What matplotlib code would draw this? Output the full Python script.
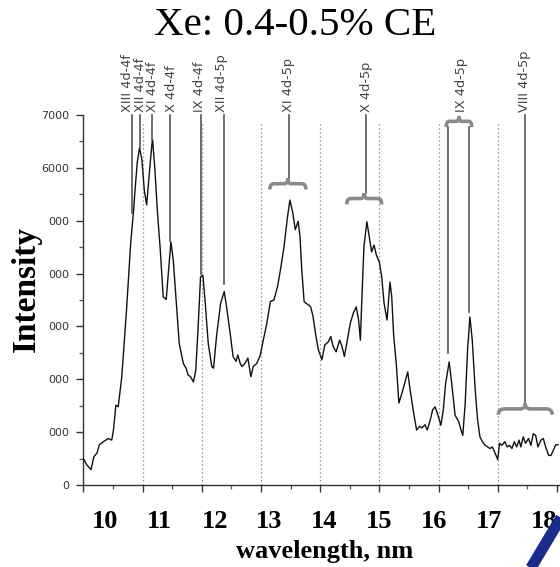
import numpy as np
import matplotlib
matplotlib.use("Agg")
import matplotlib.pyplot as plt
import matplotlib.transforms as mtransforms
from matplotlib.path import Path
from matplotlib.patches import PathPatch
from matplotlib.lines import Line2D

# ---------------- data ----------------
wavelength = [
    10.00, 10.06, 10.13, 10.18, 10.23, 10.27, 10.34, 10.42, 10.48, 10.51,
    10.55, 10.59, 10.65, 10.73, 10.80, 10.85, 10.87, 10.91, 10.95, 10.99,
    11.03, 11.07, 11.12, 11.16, 11.17, 11.21, 11.25, 11.30, 11.35, 11.40,
    11.44, 11.48, 11.52, 11.58, 11.62, 11.69, 11.74, 11.77, 11.81, 11.86,
    11.90, 11.94, 11.98, 12.02, 12.06, 12.11, 12.17, 12.20, 12.25, 12.32,
    12.38, 12.42, 12.48, 12.53, 12.58, 12.61, 12.65, 12.68, 12.73, 12.78,
    12.82, 12.83, 12.87, 12.93, 12.99, 13.04, 13.10, 13.16, 13.22, 13.28,
    13.33, 13.39, 13.45, 13.49, 13.54, 13.58, 13.63, 13.66, 13.69, 13.73,
    13.76, 13.80, 13.84, 13.88, 13.93, 13.97, 14.03, 14.08, 14.14, 14.18,
    14.22, 14.27, 14.33, 14.37, 14.41, 14.45, 14.51, 14.56, 14.61, 14.65,
    14.68, 14.70, 14.74, 14.79, 14.83, 14.87, 14.91, 14.95, 15.00, 15.04,
    15.08, 15.13, 15.16, 15.18, 15.21, 15.24, 15.29, 15.33, 15.38, 15.42,
    15.48, 15.52, 15.58, 15.63, 15.68, 15.72, 15.77, 15.81, 15.86, 15.90,
    15.94, 15.98, 16.04, 16.08, 16.12, 16.18, 16.22, 16.28, 16.34, 16.38,
    16.41, 16.45, 16.49, 16.53, 16.57, 16.62, 16.66, 16.70, 16.74, 16.79,
    16.83, 16.87, 16.91, 16.96, 17.00, 17.03, 17.07, 17.12, 17.16, 17.20,
    17.24, 17.28, 17.32, 17.36, 17.39, 17.43, 17.47, 17.52, 17.56, 17.60,
    17.64, 17.68, 17.73, 17.77, 17.81, 17.86, 17.90, 17.94, 17.98, 18.02,
]
intensity = [
    505, 380, 290, 540, 600, 760, 820, 880, 850, 1040,
    1510, 1480, 2050, 3310, 4570, 5200, 5520, 6090, 6380, 6150,
    5580, 5300, 5960, 6460, 6530, 5960, 5200, 4450, 3560, 3510,
    4060, 4600, 4250, 3310, 2680, 2300, 2200, 2080, 2050, 1950,
    2170, 3000, 3940, 3970, 3440, 2680, 2240, 2210, 2810, 3440,
    3660, 3370, 2870, 2430, 2340, 2460, 2300, 2240, 2300, 2400,
    2110, 2050, 2240, 2300, 2460, 2740, 3060, 3470, 3500, 3750,
    4070, 4510, 5080, 5390, 5140, 4830, 4990, 4700, 4070, 3470,
    3440, 3410, 3370, 3190, 2810, 2560, 2370, 2650, 2710, 2810,
    2620, 2520, 2740, 2620, 2430, 2680, 3060, 3250, 3370, 3120,
    2740, 3370, 4510, 4980, 4700, 4410, 4540, 4350, 4220, 3940,
    3440, 3120, 3560, 3840, 3560, 2870, 2240, 1550, 1730, 1890,
    2140, 1800, 1360, 1040, 1110, 1080, 1140, 1040, 1230, 1420,
    1480, 1360, 1130, 1420, 1920, 2330, 1950, 1320, 1200, 1040,
    940, 1540, 2550, 3180, 2740, 1790, 1230, 910, 820, 750,
    720, 690, 720, 590, 480, 790, 750, 820, 720, 750,
    690, 820, 720, 850, 720, 910, 790, 880, 750, 970,
    940, 720, 850, 880, 720, 560, 560, 660, 760, 760,
]

x_ticks = [10, 11, 12, 13, 14, 15, 16, 17, 18]
x_tick_labels = ["10", "11", "12", "13", "14", "15", "16", "17", "18"]
y_ticks = [0, 1000, 2000, 3000, 4000, 5000, 6000, 7000]
y_tick_labels = ["0", "000", "000", "000", "000", "000", "6000", "7000"]
grid_x = [11, 12, 13, 14, 15, 16, 17]

# single-line annotations
line_labels = ["XIII 4d-4f", "XII 4d-4f", "XI 4d-4f", "X 4d-4f", "IX 4d-4f", "XII 4d-5p"]
line_x = [10.83, 10.95, 11.16, 11.47, 11.99, 12.38]
line_text_x = [10.74, 10.96, 11.17, 11.49, 11.96, 12.34]
line_end = [5150, 6380, 6530, 4620, 3990, 3800]

# brace annotations
brace_labels = ["XI 4d-5p", "X 4d-5p", "IX 4d-5p", "VIII 4d-5p"]
brace_label_x = [13.47, 14.78, 16.39, 17.46]
brace_lo = [13.15, 14.45, 16.13, 17.01]
brace_hi = [13.76, 15.04, 16.56, 17.92]
brace_level = [5700, 5420, 6880, 1440]
# IX 4d-5p legs drop from brace ends to the peaks
ix_leg_x = [16.16, 16.52]
ix_leg_end = [2490, 3280]

TOP = 7000

# ---------------- figure ----------------
fig = plt.figure(figsize=(5.6, 5.67), dpi=100)
fig.patch.set_facecolor("white")
W, H = 560, 567
ax = fig.add_axes([83.3 / W, (H - 485) / H, (559.9 - 83.3) / W, (485 - 115) / H])

ax.set_xlim(10, 18.05)
ax.set_ylim(0, TOP)
for s in ["top", "right"]:
    ax.spines[s].set_visible(False)
for s in ["left", "bottom"]:
    ax.spines[s].set_color("#333333")
    ax.spines[s].set_linewidth(1.0)

ax.vlines(grid_x, 0, 6880, colors="#6a78b0", linestyles=(0, (1, 2.2)), linewidth=0.9)

ax.plot(wavelength, intensity, color="#111111", linewidth=1.0, zorder=3)

# ticks
ax.set_xticks(x_ticks)
ax.set_xticklabels([])
ax.set_xticks(np.arange(10.5, 18, 1.0), minor=True)
ax.set_yticks(y_ticks)
ax.set_yticklabels(y_tick_labels, fontsize=8, color="#333333", family="DejaVu Sans")
ax.set_yticks(np.arange(500, 7000, 1000), minor=True)
ax.tick_params(axis="both", which="major", direction="out", length=5, width=1.0, color="#333333")
ax.tick_params(axis="both", which="minor", direction="out", length=3, width=0.9, color="#555555")
ax.tick_params(axis="y", which="major", pad=5)

# pasted-in bold x tick labels (spacing slightly narrower than ticks)
blend = mtransforms.blended_transform_factory(ax.transData, fig.transFigure)
lab_start, lab_step = 10.367, 0.926
for i, t in enumerate(x_tick_labels):
    fig_x = lab_start + i * lab_step
    ax.text(fig_x, 1 - 528 / H, t, transform=blend, ha="center", va="baseline",
            fontsize=19, fontweight="bold", family="Liberation Serif", clip_on=False)

# annotations
ann_color = "#555555"
txt_tr = mtransforms.offset_copy(ax.transData, fig=fig, x=0, y=3, units="dots")
for lab, lx, tx, le in zip(line_labels, line_x, line_text_x, line_end):
    ax.plot([lx, lx], [TOP, le], color=ann_color, linewidth=1.2, clip_on=False, zorder=4)
    ax.text(tx, TOP, lab, transform=txt_tr, rotation=90, ha="center", va="bottom",
            fontsize=9.3, color="#444444", family="DejaVu Sans", clip_on=False)


def brace_path(x0, x1, y, h):
    xc = 0.5 * (x0 + x1)
    w = x1 - x0
    verts = [
        (x0, y - h), (x0, y), (x0 + 0.12 * w, y),
        (xc - 0.1 * w, y), (xc, y), (xc, y + h * 0.9),
        (xc, y), (xc + 0.1 * w, y),
        (x1 - 0.12 * w, y), (x1, y), (x1, y - h),
    ]
    codes = [Path.MOVETO, Path.CURVE3, Path.CURVE3,
             Path.LINETO, Path.CURVE3, Path.CURVE3,
             Path.CURVE3, Path.CURVE3,
             Path.LINETO, Path.CURVE3, Path.CURVE3]
    return Path(verts, codes)


brace_h = 110
for lab, bx, lo, hi, lev in zip(brace_labels, brace_label_x, brace_lo, brace_hi, brace_level):
    cusp = lev + brace_h * 0.9
    if cusp < TOP - 200:
        ax.plot([bx, bx], [TOP, cusp], color=ann_color, linewidth=1.2, clip_on=False, zorder=4)
    patch = PathPatch(brace_path(lo, hi, lev, brace_h), facecolor="none",
                      edgecolor="#8a8a8a", linewidth=2.6, clip_on=False, zorder=4)
    ax.add_patch(patch)
    ax.text(bx, TOP, lab, transform=txt_tr, rotation=90, ha="center", va="bottom",
            fontsize=9.3, color="#444444", family="DejaVu Sans", clip_on=False)

for lx, le in zip(ix_leg_x, ix_leg_end):
    ax.plot([lx, lx], [brace_level[2] - brace_h, le], color=ann_color, linewidth=1.2,
            clip_on=False, zorder=4)

# titles / axis labels
fig.text(295 / W, 1 - 35 / H, "Xe: 0.4-0.5% CE", ha="center", va="baseline",
         fontsize=29.5, family="Liberation Serif")
fig.text(26 / W, 1 - 289 / H, "Intensity", rotation=90, ha="center", va="center",
         fontsize=24, fontweight="bold", family="Liberation Serif")
fig.text(325 / W, 1 - 558 / H, "wavelength, nm", ha="center", va="baseline",
         fontsize=19, fontweight="bold", family="Liberation Serif")

# blue corner stroke
fig.add_artist(Line2D([528.5 / W, 565 / W], [1 - 572 / H, 1 - 511 / H],
                      transform=fig.transFigure, color="#1c2c8c", linewidth=8,
                      solid_capstyle="butt"))

fig.savefig("out.png", dpi=100, facecolor="white")
